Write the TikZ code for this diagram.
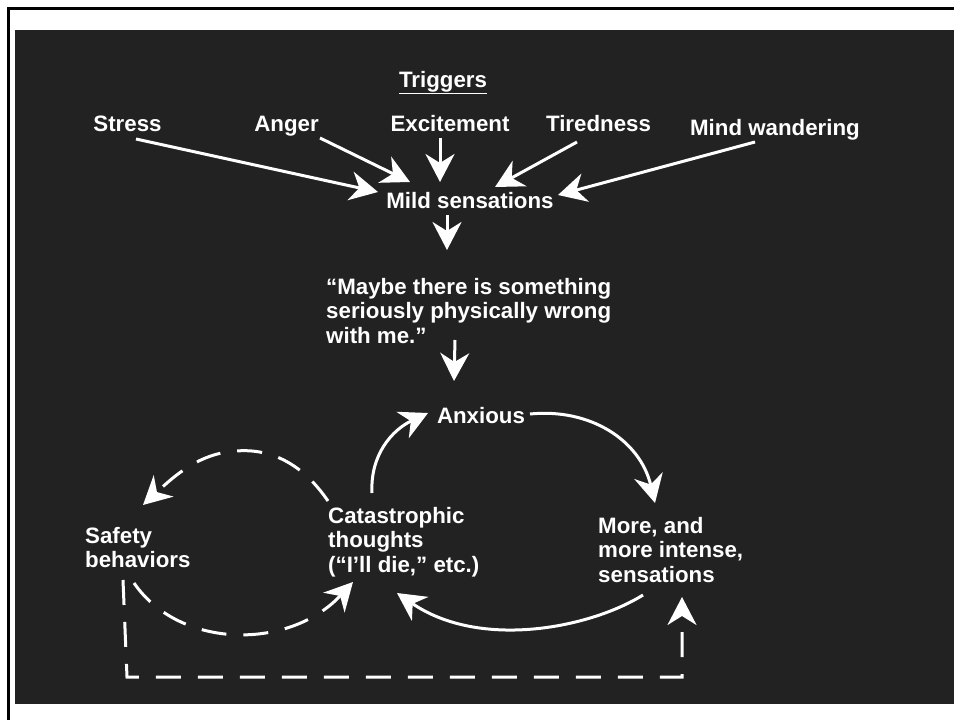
\documentclass[tikz,border=0pt]{standalone}
\usepackage{fontspec}
\setmainfont{Liberation Sans}
\usetikzlibrary{arrows.meta,calc}
\definecolor{bgdark}{HTML}{222222}
\begin{document}
\begin{tikzpicture}[x=1pt,y=-1pt,
  lbl/.style={text=white,font=\fontsize{22.3}{24.5}\selectfont\bfseries,inner sep=0pt},
  lblblock/.style={lbl,align=left},
  conn/.style={draw=white,line width=3pt,-{Stealth[length=28pt,width=29pt,inset=9pt]}},
  dconn/.style={conn,dash pattern=on 25pt off 17pt}
]
\useasboundingbox (0,0) rectangle (954,720);
\clip (0,0) rectangle (954,720);
\fill[white] (0,0) rectangle (954,720);
\draw[black,line width=3pt] (8.5,8.5) rectangle (975,745);
\fill[bgdark] (15,30) rectangle (960,704);

\node[lbl,anchor=base] (triggers) at (443,87) {\underline{Triggers}};
\node[lbl,anchor=base] (stress) at (127.5,131) {Stress};
\node[lbl,anchor=base] (anger) at (286.5,131) {Anger};
\node[lbl,anchor=base] (excite) at (450,131) {Excitement};
\node[lbl,anchor=base] (tired) at (598.5,131) {Tiredness};
\node[lbl,anchor=base] (mindw) at (775,135) {Mind wandering};
\node[lbl,anchor=base] (mild) at (470,208) {Mild sensations};
\node[lblblock,anchor=north west] (quote) at (326,278) {“Maybe there is something\\seriously physically wrong\\with me.”};
\node[lbl,anchor=base] (anxious) at (481,423) {Anxious};
\node[lblblock,anchor=north west] (safety) at (85,527) {Safety\\behaviors};
\node[lblblock,anchor=north west] (cat) at (328,507) {Catastrophic\\thoughts\\(“I'll die,” etc.)};
\node[lblblock,anchor=north west] (more) at (598,517) {More, and\\more intense,\\sensations};

\draw[conn] ($(stress.base)+(8.5,8)$) -- ($(mild.base)+(-92,-16)$);
\draw[conn] ($(anger.base)+(33.5,7)$) -- ($(mild.base)+(-60,-26)$);
\draw[conn] ($(excite.base)+(-10,7)$) -- ($(mild.base)+(-30,-26)$);
\draw[conn] ($(tired.base)+(-21.5,11)$) -- ($(mild.base)+(25,-21)$);
\draw[conn] ($(mindw.base)+(-20,7)$) -- ($(mild.base)+(88,-13)$);
\draw[conn] ($(mild.base)+(-23,7)$) -- ($(quote.north west)+(121,-28)$);
\draw[conn] ($(quote.north west)+(129,62)$) -- ($(anxious.base)+(-27,-42)$);
\draw[conn] ($(anxious.base)+(49,-9)$) .. controls (590,408) and (640,440) .. ($(more.north west)+(57,-14)$);
\draw[conn] ($(cat.north west)+(44,-14)$) .. controls (370,455) and (392,430) .. ($(anxious.base)+(-53,-10)$);
\draw[conn] ($(more.north west)+(45,78)$) .. controls (590,628) and (480,650) .. ($(cat.north west)+(69,86)$);

\coordinate (arctop) at (228,452);
\draw[dconn] ($(cat.north west)+(0,-6)$) .. controls (300,460) and (265,446) .. (arctop)
  .. controls (195,456) and (170,480) .. ($(safety.north west)+(58,-22)$);
\draw[dconn] ($(safety.north west)+(49,56)$) .. controls (180,650) and (290,650) .. ($(cat.north west)+(25,75)$);
\coordinate (rc1) at (127,677);
\coordinate (rc2) at (682,677);
\draw[dconn] ($(safety.north west)+(38,53)$) -- (rc1) -- (rc2) -- ($(more.north west)+(84,80)$);
\end{tikzpicture}
\end{document}
